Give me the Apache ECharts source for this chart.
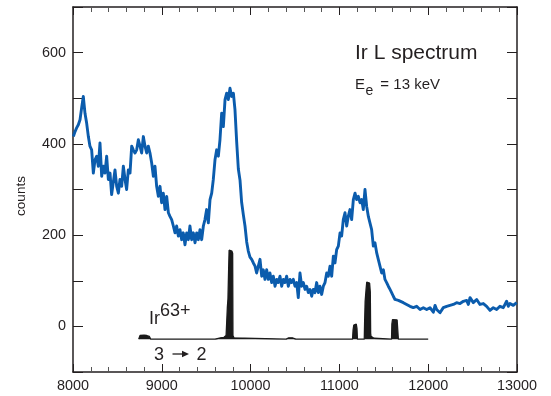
<!DOCTYPE html>
<html>
<head>
<meta charset="utf-8">
<script src="https://cdn.jsdelivr.net/npm/echarts@6/dist/echarts.min.js"></script>
<style>html,body{margin:0;padding:0;background:#fff}#c{width:551px;height:396px}</style>
</head>
<body>
<div id="c"></div>
<script>
// Measured spectrum (energy in eV, counts)
var specE = [
8004,8023,8041,8060,8079,8098,8116,8135,8154,8173,
8191,8210,8229,8248,8267,8285,8304,8323,8342,8360,
8379,8398,8417,8435,8454,8473,8492,8511,8529,8548,
8567,8586,8604,8623,8642,8661,8679,8698,8717,8736,
8755,8773,8792,8811,8830,8848,8867,8886,8905,8923,
8942,8961,8980,8998,9017,9036,9055,9074,9092,9111,
9130,9149,9167,9186,9205,9224,9242,9261,9280,9299,
9317,9336,9355,9374,9393,9411,9430,9449,9468,9486,
9505,9524,9543,9562,9580,9599,9618,9637,9655,9674,
9693,9712,9730,9749,9768,9787,9806,9824,9843,9862,
9881,9899,9918,9937,9956,9974,9993,10012,10031,10050,
10068,10087,10106,10125,10143,10162,10181,10200,10218,10237,
10256,10275,10294,10312,10331,10350,10369,10387,10406,10425,
10444,10462,10481,10500,10519,10537,10556,10575,10594,10613,
10631,10650,10669,10688,10706,10725,10744,10763,10781,10800,
10819,10838,10857,10875,10894,10913,10932,10950,10969,10988,
11007,11025,11044,11063,11082,11100,11119,11138,11157,11176,
11194,11213,11232,11251,11269,11288,11307,11326,11344,11363,
11382,11401,11420,11438,11457,11476,11495,11513,11532,11551,
11570,11588,11607,11626,11645,11664,
11682,11720,11757,11795,11832,11870,11908,11945,11983,12020,
12058,12077,12095,12133,12170,12208,12245,12283,12320,12358,
12396,12433,12452,12471,12508,12546,12583,12621,12658,12696,
12733,12771,12808,12846,12883,12902,12921,12958,12996
];
var specCounts = [
416,427,435,442,453,480,504,467,445,416,
395,387,336,365,373,351,402,329,351,336,
373,322,336,289,285,343,307,292,322,307,
351,322,300,343,336,395,387,380,387,409,
395,380,416,395,380,395,380,358,329,351,
307,285,307,271,292,256,285,249,241,234,
220,205,220,198,212,190,205,179,205,190,
220,190,205,183,205,190,212,190,220,234,
256,227,278,292,322,365,387,373,409,467,
438,497,511,497,522,504,511,475,405,345,
320,272,245,220,185,165,152,147,139,132,
117,132,147,110,124,103,124,103,117,96,
110,88,103,96,110,88,103,96,110,88,
103,96,103,88,96,63,117,88,96,81,
88,74,81,66,81,74,96,74,88,70,
88,96,117,110,132,110,154,139,168,176,
205,198,234,249,220,241,256,234,278,292,
278,285,271,278,256,300,263,241,227,212,
176,183,161,147,132,117,124,103,96,88,
81,74,66,59,55,57,
59,52,48,44,41,44,37,41,37,41,
31,46,37,30,41,44,46,48,52,50,
55,57,48,63,52,59,48,50,44,35,
41,37,44,41,55,44,50,46,52
];
// Calculated Ir63+ 3->2 lines (drawn offset, baseline at -28 counts)
var theoryBase = -28;
var theoryE = [8740,8755,8775,8800,8830,8860,8875,9600,9620,9660,9700,9718,
9724,9730,9738,9745,9752,9758,9790,9798,9801,9812,9825,
10400,10430,10470,10510,
11148,11154,11162,11175,11190,11198,11203,
11280,11284,11290,11300,11308,11340,11348,11352,11356,11375,11390,11400,
11587,11591,11598,11620,11650,11660,11664,12000];
var theoryCounts = [-28,-20,-18,-19,-20,-22,-28,-28,-24,-25,-24,-22,
-20,5,41,60,120,167,165,160,-20,-25,-28,
-28,-25,-25,-28,
-28,-8,3,7,5,-5,-28,
-28,10,55,80,97,95,75,-15,-22,-22,-26,-28,
-28,5,15,17,14,10,-28,-28];
var xTicks = [8000,9000,10000,11000,12000,13000];
var yTickLabels = [0,200,400,600];

function zip(a,b){var r=[];for(var i=0;i<a.length;i++)r.push([a[i],b[i]]);return r;}

var TXT = '#231f20';
var FONT = '"Liberation Sans", Arial, sans-serif';
var chart = echarts.init(document.getElementById('c'), null, {renderer:'canvas'});
var axisCommon = {
  axisLine:{show:true, onZero:false, lineStyle:{color:TXT, width:1.5}},
  splitLine:{show:false}
};
chart.setOption({
  animation:false,
  backgroundColor:'#fff',
  grid:{left:73, right:34, top:7, bottom:24, containLabel:false},
  xAxis:[
    Object.assign({type:'value', min:8000, max:13000, interval:1000, position:'bottom',
      axisTick:{show:true, inside:true, length:8, lineStyle:{color:TXT,width:1}},
      minorTick:{show:true, splitNumber:5, length:5, lineStyle:{color:'#555',width:1}},
      axisLabel:{show:true, margin:7, color:TXT, fontSize:14.4, fontFamily:FONT,
        formatter:function(v){return xTicks.indexOf(v)>=0?String(v):'';}}
    }, axisCommon),
    Object.assign({type:'value', min:8000, max:13000, interval:1000, position:'top',
      axisTick:{show:true, inside:true, length:8, lineStyle:{color:TXT,width:1}},
      minorTick:{show:true, splitNumber:5, length:5, lineStyle:{color:'#555',width:1}},
      axisLabel:{show:false}
    }, axisCommon)
  ],
  yAxis:[
    Object.assign({type:'value', min:-100, max:700, interval:100, position:'left',
      axisTick:{show:true, inside:true, length:10, lineStyle:{color:TXT,width:1}},
      axisLabel:{show:true, margin:7, color:TXT, fontSize:14.4, fontFamily:FONT,
        formatter:function(v){return yTickLabels.indexOf(v)>=0?String(v):'';}}
    }, axisCommon),
    Object.assign({type:'value', min:-100, max:700, interval:100, position:'right',
      axisTick:{show:true, inside:true, length:10, lineStyle:{color:TXT,width:1}},
      axisLabel:{show:false}
    }, axisCommon)
  ],
  series:[
    {type:'line', xAxisIndex:0, yAxisIndex:0, data:zip(theoryE, theoryCounts),
     showSymbol:false, symbol:'none', smooth:false, z:2,
     lineStyle:{color:'#1a1a1a', width:1.3},
     areaStyle:{color:'#1a1a1a', opacity:1, origin:theoryBase}},
    {type:'line', xAxisIndex:0, yAxisIndex:0, data:zip(specE, specCounts),
     showSymbol:false, symbol:'none', smooth:false, z:3,
     lineStyle:{color:'#0b5cad', width:2.9, join:'round'}}
  ],
  graphic:[
    {type:'text', x:21, y:196, rotation:Math.PI/2,
     style:{text:'counts', font:'13.5px '+FONT, fill:TXT, textAlign:'center', textVerticalAlign:'middle'}},
    {type:'text', x:355, y:53.5,
     style:{text:'Ir L spectrum', font:'21px '+FONT, fill:TXT, textAlign:'left', textVerticalAlign:'middle'}},
    {type:'text', x:355, y:84.5,
     style:{text:'E', font:'15px '+FONT, fill:TXT, textAlign:'left', textVerticalAlign:'middle'}},
    {type:'text', x:365.5, y:91,
     style:{text:'e', font:'14px '+FONT, fill:TXT, textAlign:'left', textVerticalAlign:'middle'}},
    {type:'text', x:440, y:84.5,
     style:{text:'= 13 keV', font:'15px '+FONT, fill:TXT, textAlign:'right', textVerticalAlign:'middle'}},
    {type:'text', x:149, y:319.5,
     style:{text:'Ir', font:'18px '+FONT, fill:TXT, textAlign:'left', textVerticalAlign:'middle'}},
    {type:'text', x:160, y:311,
     style:{text:'63+', font:'18px '+FONT, fill:TXT, textAlign:'left', textVerticalAlign:'middle'}},
    {type:'text', x:154, y:355,
     style:{text:'3', font:'18px '+FONT, fill:TXT, textAlign:'left', textVerticalAlign:'middle'}},
    {type:'text', x:196.5, y:355,
     style:{text:'2', font:'18px '+FONT, fill:TXT, textAlign:'left', textVerticalAlign:'middle'}},
    {type:'line', shape:{x1:172.5, y1:354, x2:183, y2:354}, style:{stroke:TXT, lineWidth:1.3}},
    {type:'polygon', shape:{points:[[182,350.8],[189,354],[182,357.2]]}, style:{fill:TXT}}
  ]
});
</script>
</body>
</html>
